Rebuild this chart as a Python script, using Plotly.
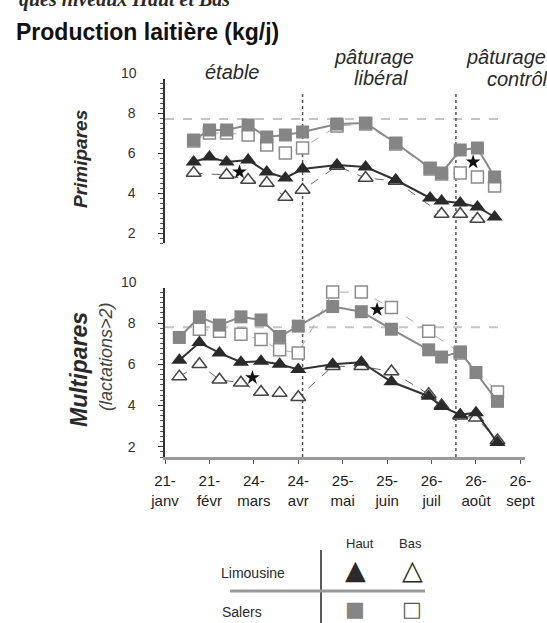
import plotly.graph_objects as go

# ---------------- data ----------------
tick_days = [0, 31, 62, 93, 124, 155, 186, 217, 248]
tick_labels = ["21-<br>janv", "21-<br>févr", "24-<br>mars", "24-<br>avr", "25-<br>mai",
               "25-<br>juin", "26-<br>juil", "26-<br>août", "26-<br>sept"]

# Primipares (days since 21 janv)
prim_days = [20, 31, 43, 58, 71, 84, 96, 120, 140, 161, 185, 193, 206, 218, 230]
prim_salers_haut = [6.65, 7.15, 7.15, 7.4, 6.8, 6.9, 7.05, 7.45, 7.5, 6.5, 5.25, 5.0, 6.15, 6.25, 4.8]
prim_salers_bas = [6.6, 7.0, 7.0, 6.9, 6.4, 6.0, 6.25, 7.35, 7.45, 6.45, 5.2, 4.95, 5.0, 4.8, 4.35]
prim_limousine_haut = [5.55, 5.8, 5.55, 5.65, 5.05, 4.75, 5.2, 5.4, 5.3, 4.65, 3.75, 3.6, 3.5, 3.3, 2.8]
prim_limousine_bas = [5.0, None, 4.9, 4.65, 4.5, 3.8, 4.15, 5.35, 4.75, 4.6, None, 2.95, 2.95, 2.7, None]

# Multipares (lactations>2)
mult_days = [10, 24, 38, 53, 67, 80, 93, 117, 137, 158, 184, 193, 206, 217, 232]
mult_salers_haut = [7.3, 8.3, 7.9, 8.3, 8.15, 7.35, 7.85, 8.8, 8.55, 7.7, 6.7, 6.35, 6.6, 5.6, 4.2]
mult_salers_bas = [None, 7.7, 7.6, 7.45, 7.2, 6.7, 6.55, 9.5, 9.5, 8.75, 7.6, None, 6.55, None, 4.65]
mult_limousine_haut = [6.2, 7.05, 6.55, 6.1, 6.15, 6.0, 5.75, 6.0, 6.1, 5.15, 4.45, 3.95, 3.55, 3.65, 2.2]
mult_limousine_bas = [5.4, 6.0, 5.25, 5.1, 4.65, 4.6, 4.4, 5.9, 5.9, 5.65, 4.55, 4.0, 3.5, 3.4, 2.3]

# significance stars
star_prim_days = [52, 215]
star_prim_vals = [5.05, 5.55]
star_mult_days = [61, 148]
star_mult_vals = [5.35, 8.65]

ref_prim = 7.7
ref_mult = 7.8
ref_end_day = 237
period_limits = [96, 203]
y_ticks = [2, 4, 6, 8]

# ---------------- layout geometry ----------------
FW, FH = 547, 623
L, R, T, B = 165, 22, 79, 166
W = FW - L - R
H = FH - T - B


def px_x(px):
    return (px - L) / W


def px_y(py):
    return (FH - B - py) / H


FONT = "Liberation Sans, Arial, sans-serif"
DARK = "#2a2a2a"

fig = go.Figure()


def add_group(days, sh, sb, lh, lb, xa, ya):
    fig.add_trace(go.Scatter(
        x=days, y=sb, xaxis=xa, yaxis=ya, mode="lines+markers", connectgaps=True,
        line=dict(color="#ababab", width=1, dash="dash"),
        marker=dict(symbol="square", size=12, color="white",
                    line=dict(color="#8c8c8c", width=1.5)),
        cliponaxis=False, showlegend=False, name="Salers Bas"))
    fig.add_trace(go.Scatter(
        x=days, y=sh, xaxis=xa, yaxis=ya, mode="lines+markers", connectgaps=True,
        line=dict(color="#8a8a8a", width=2),
        marker=dict(symbol="square", size=13, color="#858585", line=dict(width=0)),
        cliponaxis=False, showlegend=False, name="Salers Haut"))
    fig.add_trace(go.Scatter(
        x=days, y=lb, xaxis=xa, yaxis=ya, mode="lines+markers", connectgaps=True,
        line=dict(color="#666666", width=1, dash="dash"),
        marker=dict(symbol="triangle-up", size=13, color="white",
                    line=dict(color="#444444", width=1.5)),
        cliponaxis=False, showlegend=False, name="Limousine Bas"))
    fig.add_trace(go.Scatter(
        x=days, y=lh, xaxis=xa, yaxis=ya, mode="lines+markers", connectgaps=True,
        line=dict(color="#333333", width=2),
        marker=dict(symbol="triangle-up", size=14, color=DARK, line=dict(width=0)),
        cliponaxis=False, showlegend=False, name="Limousine Haut"))


add_group(prim_days, prim_salers_haut, prim_salers_bas, prim_limousine_haut,
          prim_limousine_bas, "x2", "y2")
add_group(mult_days, mult_salers_haut, mult_salers_bas, mult_limousine_haut,
          mult_limousine_bas, "x", "y")

fig.add_trace(go.Scatter(x=star_prim_days, y=star_prim_vals, xaxis="x2", yaxis="y2",
                         mode="markers", marker=dict(symbol="star", size=11, color="#111"),
                         cliponaxis=False, showlegend=False))
fig.add_trace(go.Scatter(x=star_mult_days, y=star_mult_vals, xaxis="x", yaxis="y",
                         mode="markers", marker=dict(symbol="star", size=11, color="#111"),
                         cliponaxis=False, showlegend=False))

yax_common = dict(
    range=[1.5, 9.7], tickvals=y_ticks, ticks="outside", ticklen=5, tickwidth=1.2,
    tickcolor="#333", showline=True, linecolor="#333", linewidth=1.5,
    showgrid=False, zeroline=False, ticklabelstandoff=20,
    tickfont=dict(family=FONT, size=14, color="#333"),
    minor=dict(dtick=0.25, ticks="outside", ticklen=3, tickcolor="#555", showgrid=False),
)

shapes = []
# reference dashed lines
shapes.append(dict(type="line", xref="x", yref="y2", x0=0, x1=ref_end_day,
                   y0=ref_prim, y1=ref_prim, line=dict(color="#c4c4c4", width=2, dash="dash"),
                   layer="below"))
shapes.append(dict(type="line", xref="x", yref="y", x0=0, x1=ref_end_day,
                   y0=ref_mult, y1=ref_mult, line=dict(color="#c4c4c4", width=2, dash="dash"),
                   layer="below"))
# period limits
for d in period_limits:
    shapes.append(dict(type="line", xref="x", yref="paper", x0=d, x1=d,
                       y0=0, y1=px_y(92), line=dict(color="#555", width=1.5, dash="dot"),
                       layer="below"))
# legend table lines
shapes.append(dict(type="line", xref="paper", yref="paper", x0=px_x(321), x1=px_x(321),
                   y0=px_y(550), y1=px_y(624), line=dict(color="#222", width=1.5)))
shapes.append(dict(type="line", xref="paper", yref="paper", x0=px_x(230), x1=px_x(425),
                   y0=px_y(591), y1=px_y(591), line=dict(color="#9a9a9a", width=3)))


def ann(text, px, py, size, xanchor="center", bold=False, italic=False, color=DARK,
        angle=0, family=FONT):
    t = text
    if bold:
        t = "<b>" + t + "</b>"
    if italic:
        t = "<i>" + t + "</i>"
    return dict(text=t, xref="paper", yref="paper", x=px_x(px), y=px_y(py),
                xanchor=xanchor, yanchor="middle", showarrow=False, textangle=angle,
                font=dict(family=family, size=size, color=color))


annotations = [
    ann("ques niveaux Haut et Bas", 232, 0, 20, xanchor="right", bold=True, italic=True,
        family="Liberation Serif, Times New Roman, serif"),
    ann("Production laitière (kg/j)", 14, 32, 23, xanchor="left", bold=True, color="#111"),
    ann("étable", 232, 72, 20, italic=True),
    ann("pâturage", 374, 57, 20, italic=True),
    ann("libéral", 381, 78, 20, italic=True),
    ann("pâturage", 506, 57, 20, italic=True),
    ann("contrôlé", 522, 79, 20, italic=True),
    ann("10", 139, 73, 14, xanchor="right", color="#333"),
    ann("10", 139, 282, 14, xanchor="right", color="#333"),
    ann("Primipares", 80, 159, 19, bold=True, italic=True, angle=-90),
    ann("Multipares", 79, 370, 23, bold=True, italic=True, angle=-90),
    ann("(lactations>2)", 106, 357, 18, italic=True, angle=-90, color="#444"),
    # legend table
    ann("Haut", 360, 543, 13),
    ann("Bas", 410, 543, 13),
    ann("Limousine", 219, 573, 14, xanchor="left"),
    ann("Salers", 220, 612, 14, xanchor="left"),
    ann("▲", 355, 569, 27, color=DARK, family="DejaVu Sans"),
    ann("△", 412, 569, 27, color=DARK, family="DejaVu Sans"),
    ann("■", 355, 609, 21, color="#858585", family="DejaVu Sans"),
    ann("□", 412, 609, 21, color="#555", family="DejaVu Sans"),
]

fig.update_layout(
    width=FW, height=FH,
    margin=dict(l=L, r=R, t=T, b=B, pad=0),
    paper_bgcolor="white", plot_bgcolor="white",
    showlegend=False,
    xaxis=dict(domain=[0, 1], anchor="y", range=[0, W / 1.4331],
               tickvals=tick_days, ticktext=tick_labels, ticks="outside", ticklen=4,
               tickcolor="#555", showline=True, linecolor="#9a9a9a", linewidth=3,
               showgrid=False, zeroline=False, ticklabelstandoff=4,
               tickfont=dict(family=FONT, size=15, color="#222")),
    xaxis2=dict(domain=[0, 1], anchor="y2", matches="x", visible=False),
    yaxis=dict(domain=[0, px_y(288)], anchor="x", **yax_common),
    yaxis2=dict(domain=[px_y(243), 1], anchor="x2", **yax_common),
    shapes=shapes,
    annotations=annotations,
)

fig.write_html(
    "out.html",
    config={"displayModeBar": False},
    post_script="document.body.style.margin='0';document.body.style.overflow='hidden';",
)
